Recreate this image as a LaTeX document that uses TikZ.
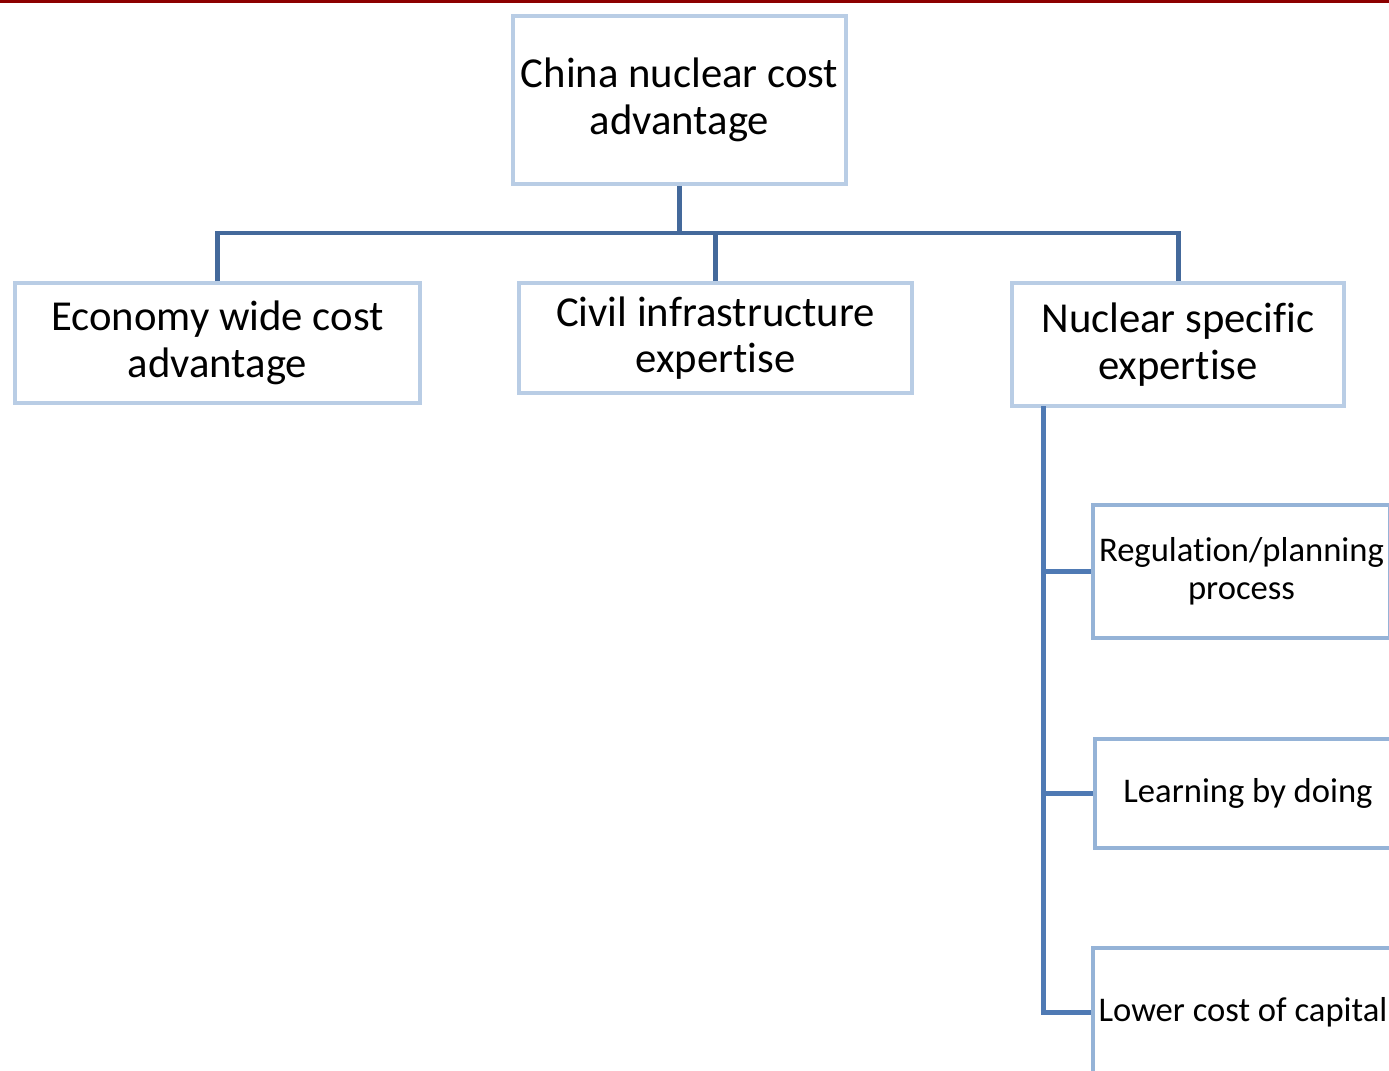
\documentclass[tikz,border=0pt]{standalone}
\usepackage{fontspec}
\setmainfont{Carlito}[Ligatures=NoCommon]
\usepackage{tikz}
\usetikzlibrary{positioning,calc}
\definecolor{boxline}{RGB}{185,205,229}
\definecolor{subline}{RGB}{149,179,215}
\definecolor{treeline}{RGB}{68,105,155}
\definecolor{trunkline}{RGB}{79,122,180}
\definecolor{barred}{RGB}{140,0,0}

\begin{document}
\begin{tikzpicture}[x=0.02cm,y=-0.02cm]
\tikzstyle{TopBox}=[draw=boxline, line width=0.08cm, fill=white, align=center, font=\fontsize{24.3}{26.6}\selectfont]
\tikzstyle{SubBox}=[draw=subline, line width=0.08cm, fill=white, align=center, font=\fontsize{19.7}{21.6}\selectfont]
\tikzstyle{Link}=[treeline, line width=0.1cm]

\useasboundingbox (0,0) rectangle (1389,1071);
\clip (0,0) rectangle (1389,1071);

\draw[barred, line width=0.06cm] (0,1.5) -- (1389,1.5);

\node[TopBox, minimum width=6.66cm, minimum height=3.36cm] (china) at (679.5,100) {China nuclear cost\\advantage};

\node[TopBox, minimum width=8.1cm, minimum height=2.4cm] (econ) at (217.5,343) {Economy wide cost\\advantage};
\node[TopBox, minimum width=7.86cm, minimum height=2.2cm] (civil) at (715.5,338) {Civil infrastructure\\expertise};
\node[TopBox, minimum width=6.64cm, minimum height=2.46cm] (nuc) at (1178,344.5) {Nuclear specific\\expertise};

\node[SubBox, minimum width=5.86cm, minimum height=2.66cm] (reg) at (1241.5,571.5) {Regulation/planning\\process};
\node[SubBox, minimum width=6.12cm, minimum height=2.18cm] (learn) at (1248,793.5) {Learning by doing};
\node[SubBox, minimum width=5.92cm, minimum height=2.56cm] (capital) at (1243,1012) {Lower cost of capital};

% top level tree
\coordinate (bus) at (679.5,233);
\draw[Link] (china.south) -- (bus);
\draw[Link] (econ.north) |- (bus) -| (nuc.north);
\draw[Link] (civil.north) -- (civil.north |- bus);

% nuclear specific branches
\coordinate (trunk) at (1043,406);
\draw[Link, trunkline] (trunk) |- (capital.west);
\draw[Link, trunkline] (trunk |- reg.west) -- (reg.west);
\draw[Link, trunkline] (trunk |- learn.west) -- (learn.west);
\end{tikzpicture}
\end{document}
